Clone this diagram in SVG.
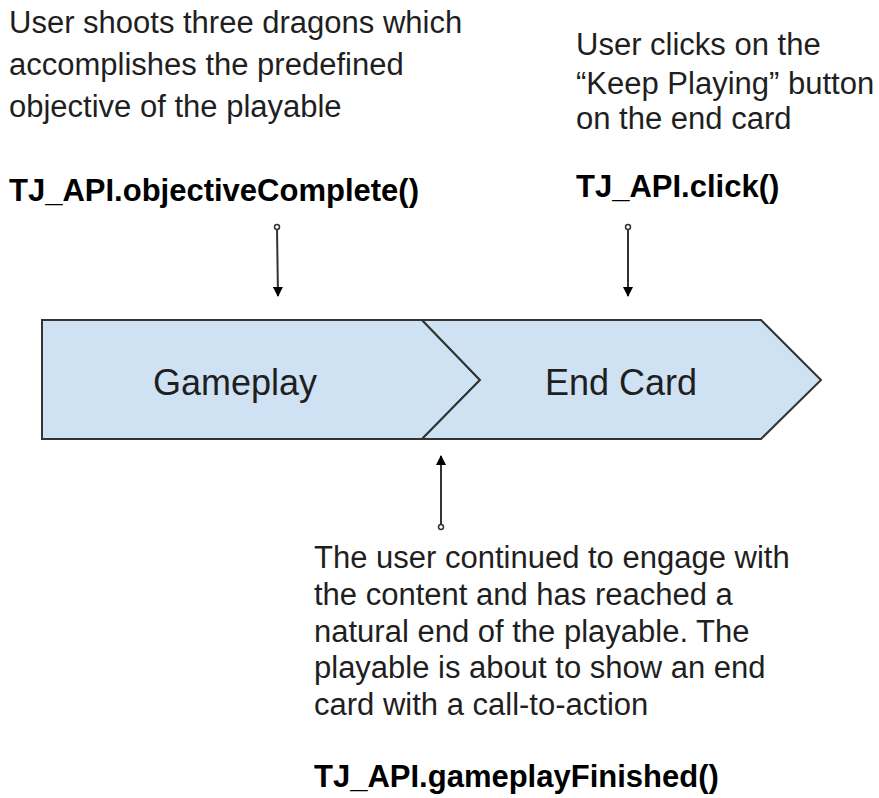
<svg xmlns="http://www.w3.org/2000/svg" width="879" height="798" viewBox="0 0 879 798">
<defs>
<style>
.t{font-family:"Liberation Sans",Arial,sans-serif;font-size:31px;fill:#1f1f1f}
.b{font-weight:bold;fill:#000}
.lbl{font-family:"Liberation Sans",Arial,sans-serif;font-size:36px;fill:#1f1f1f}
.shape{fill:#cfe2f3;stroke:#333;stroke-width:2;stroke-linejoin:miter}
.conn{stroke:#333;stroke-width:2;fill:none}
.dot{fill:#fff;stroke:#333;stroke-width:1.5}
</style>
<marker id="ah" viewBox="0 0 10 10" refX="9" refY="5" markerWidth="5" markerHeight="5" orient="auto-start-reverse" markerUnits="strokeWidth">
<path d="M0,0 L10,5 L0,10 z" fill="#000"/>
</marker>
</defs>
<rect width="879" height="798" fill="#fff"/>
<g id="gameplay">
<polygon class="shape" points="42,320 422,320 480,380 422,439 42,439"/>
<text class="lbl" x="153" y="395">Gameplay</text>
</g>
<g id="endcard">
<polygon class="shape" points="422,320 761,320 821,380 761,439 422,439 480,380"/>
<text class="lbl" x="545" y="395">End Card</text>
</g>
<g id="connectors">
<line class="conn" x1="277" y1="228" x2="278" y2="296" marker-end="url(#ah)"/>
<circle class="dot" cx="277" cy="227" r="2.5"/>
<line class="conn" x1="628" y1="229" x2="628" y2="296" marker-end="url(#ah)"/>
<circle class="dot" cx="628" cy="227" r="2.5"/>
<line class="conn" x1="441" y1="525" x2="441" y2="456" marker-end="url(#ah)"/>
<circle class="dot" cx="441" cy="527" r="2.5"/>
</g>
<g id="note-objective">
<text class="t" x="9" y="33">User shoots three dragons which</text>
<text class="t" x="9" y="75">accomplishes the predefined</text>
<text class="t" x="9" y="117">objective of the playable</text>
<text class="t b" x="9" y="201">TJ_API.objectiveComplete()</text>
</g>
<g id="note-click">
<text class="t" x="576" y="55">User clicks on the</text>
<text class="t" x="576" y="94">“Keep Playing” button</text>
<text class="t" x="576" y="129">on the end card</text>
<text class="t b" x="576" y="197">TJ_API.click()</text>
</g>
<g id="note-finished">
<text class="t" x="314" y="568">The user continued to engage with</text>
<text class="t" x="314" y="605">the content and has reached a</text>
<text class="t" x="314" y="642">natural end of the playable. The</text>
<text class="t" x="314" y="678">playable is about to show an end</text>
<text class="t" x="314" y="715">card with a call-to-action</text>
<text class="t b" x="314" y="787">TJ_API.gameplayFinished()</text>
</g>
</svg>
